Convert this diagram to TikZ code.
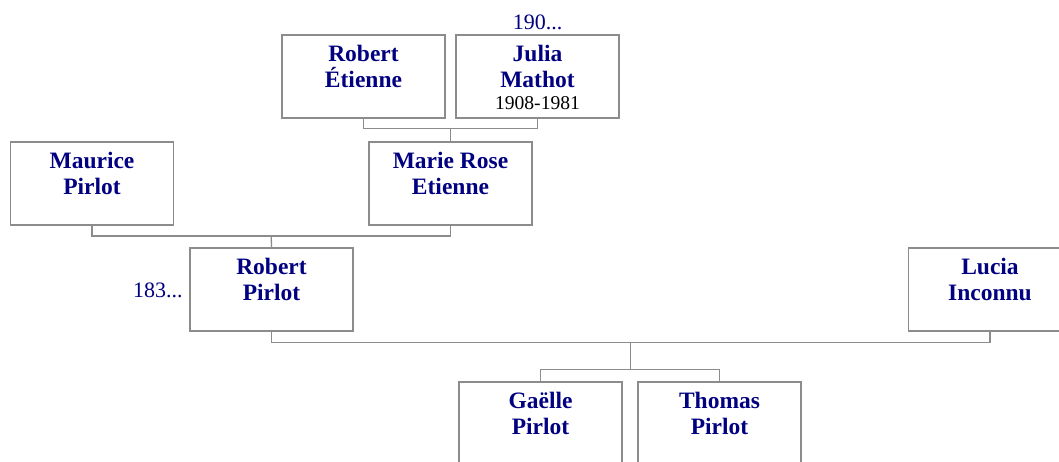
\documentclass[tikz,border=0pt]{standalone}
\usepackage{fontspec}
\setmainfont{Liberation Serif}
\usetikzlibrary{calc}

\definecolor{navyname}{RGB}{0,0,128}
\definecolor{boxgray}{RGB}{140,140,140}

\tikzset{
    person/.style={draw=boxgray, line width=1.3pt, minimum width=163, minimum height=83,
        inner sep=0pt},
    nametext/.style={anchor=north, align=center, text=navyname, inner sep=0pt,
        font=\bfseries\fontsize{23.5}{26}\selectfont},
    datetext/.style={text=navyname, inner sep=0pt, font=\fontsize{22}{24}\selectfont},
    link/.style={draw=boxgray, line width=1.3pt}
}

\begin{document}
\begin{tikzpicture}[x=1pt, y=-1pt]

    \useasboundingbox (0,0) rectangle (1059,462);

    % Grandparents
    \node[person] (robE) at (363.5,76.5) {};
    \node[nametext] (robE-n) at ($(robE.north)+(0,10.5)$) {Robert\\Étienne};

    \node[person] (julia) at (537.5,76.5) {};
    \node[nametext] (julia-n) at ($(julia.north)+(0,10.5)$) {Julia\\Mathot};
    \node[inner sep=0pt, anchor=base, font=\fontsize{19.6}{22}\selectfont] (julia-d)
        at ($(julia.north)+(0,75)$) {1908-1981};
    \node[datetext, anchor=base] (julia-b) at ($(julia.north)+(0,-5)$) {190...};

    % Parents of Robert
    \node[person] (maurice) at (92,183.5) {};
    \node[nametext] (maurice-n) at ($(maurice.north)+(0,10.5)$) {Maurice\\Pirlot};

    \node[person] (marie) at (450.5,183.5) {};
    \node[nametext] (marie-n) at ($(marie.north)+(0,10.5)$) {Marie Rose\\Etienne};

    % Couple
    \node[person] (robP) at (271.5,289.5) {};
    \node[nametext] (robP-n) at ($(robP.north)+(0,10.5)$) {Robert\\Pirlot};
    \node[datetext, anchor=base east] (robP-b) at ($(robP.west)+(-6.5,7.5)$) {183...};

    \node[person] (lucia) at (990,289.5) {};
    \node[nametext] (lucia-n) at ($(lucia.north)+(0,10.5)$) {Lucia\\Inconnu};

    % Children
    \node[person] (gaelle) at (540.5,423.5) {};
    \node[nametext] (gaelle-n) at ($(gaelle.north)+(0,10.5)$) {Gaëlle\\Pirlot};

    \node[person] (thomas) at (719.5,423.5) {};
    \node[nametext] (thomas-n) at ($(thomas.north)+(0,10.5)$) {Thomas\\Pirlot};

    % Connectors
    \coordinate (bar1) at ($(robE.south)!0.5!(julia.south)+(0,10)$);
    \draw[link] (robE.south) |- (bar1) -| (julia.south);
    \draw[link] (bar1) -- (marie.north);

    \coordinate (bar2) at ($(maurice.south)!0.5!(marie.south)+(0,10.5)$);
    \draw[link] (maurice.south) |- (bar2) -| (marie.south);
    \draw[link] (bar2) -- (robP.north);

    \coordinate (bar3) at ($(robP.south)!0.5!(lucia.south)+(0,10.5)$);
    \draw[link] (robP.south) |- (bar3) -| (lucia.south);
    \coordinate (bar4) at ($(bar3)+(0,27)$);
    \draw[link] (bar3) -- (bar4);
    \draw[link] (gaelle.north) |- (bar4) -| (thomas.north);

\end{tikzpicture}
\end{document}
